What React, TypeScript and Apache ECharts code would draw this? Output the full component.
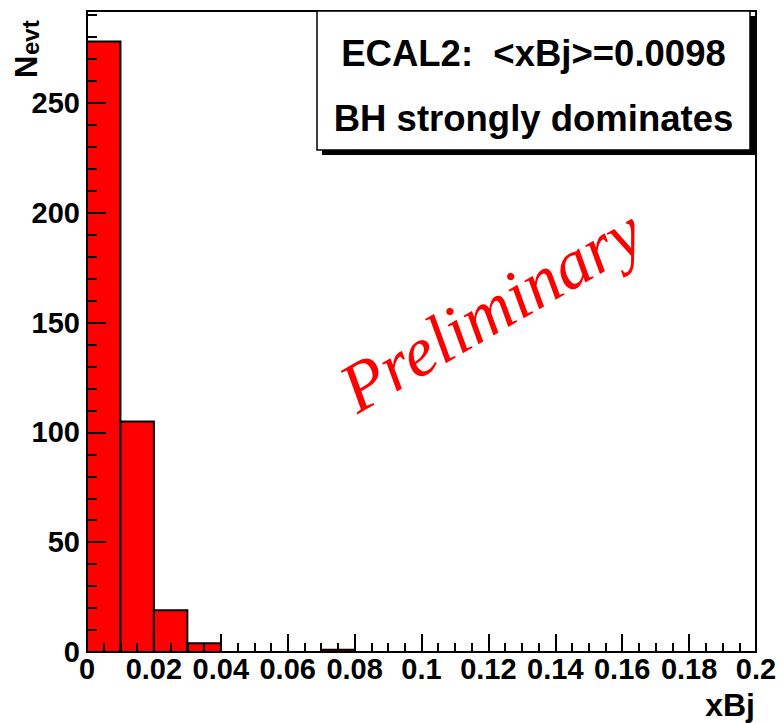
import React, { useEffect, useRef } from "react";
import * as echarts from "echarts";

// Histogram data (bin lower edges, width 0.01)
const binLow = [0, 0.01, 0.02, 0.03, 0.04, 0.05, 0.06, 0.07, 0.08, 0.09, 0.1, 0.11, 0.12, 0.13, 0.14, 0.15, 0.16, 0.17, 0.18, 0.19];
const binCounts = [278, 105, 19, 4, 0, 0, 0, 1, 0, 0, 0, 0, 0, 0, 0, 0, 0, 0, 0, 0];
const binWidth = 0.01;

const xMin = 0;
const xMax = 0.2;
const xInterval = 0.02;
const yMin = 0;
const yMax = 291.9;
const yInterval = 50;

const boxLines = ["ECAL2:  <xBj>=0.0098", "BH strongly dominates"];
const xTitle = "xBj";
const yTitleMain = "N";
const yTitleSub = "evt";
const watermark = "Preliminary";

const SANS = '"Liberation Sans", Arial, Helvetica, sans-serif';
const SERIF = '"Liberation Serif", "Times New Roman", Times, serif';

export default function App() {
  const ref = useRef<HTMLDivElement>(null);
  useEffect(() => {
    if (!ref.current) return;
    const chart = echarts.init(ref.current, null, { renderer: "svg" });
    const data = binLow.map((lo, i) => [lo, lo + binWidth, binCounts[i]]);
    const option: any = {
      animation: false,
      backgroundColor: "#ffffff",
      grid: {
        left: 87,
        right: 27,
        top: 11,
        bottom: 71,
        show: true,
        borderColor: "#000",
        borderWidth: 2,
        backgroundColor: "transparent",
      },
      xAxis: {
        type: "value",
        z: 10,
        min: xMin,
        max: xMax,
        interval: xInterval,
        axisLine: { show: true, lineStyle: { color: "#000", width: 2 } },
        axisTick: { show: true, inside: true, length: 18, lineStyle: { color: "#000", width: 2 } },
        minorTick: { show: true, splitNumber: 4, length: 9, lineStyle: { color: "#000", width: 2 } },
        splitLine: { show: false },
        axisLabel: {
          show: true,
          margin: 2,
          color: "#000",
          fontSize: 29,
          fontWeight: "bold",
          fontFamily: SANS,
          hideOverlap: false,
        },
      },
      yAxis: {
        type: "value",
        z: 10,
        min: yMin,
        max: yMax,
        interval: yInterval,
        axisLine: { show: true, lineStyle: { color: "#000", width: 2 } },
        axisTick: { show: true, inside: true, length: 19, lineStyle: { color: "#000", width: 2 } },
        minorTick: { show: true, splitNumber: 5, length: 10, lineStyle: { color: "#000", width: 2 } },
        splitLine: { show: false },
        axisLabel: {
          show: true,
          margin: 7,
          color: "#000",
          fontSize: 29,
          fontWeight: "bold",
          fontFamily: SANS,
          showMaxLabel: false,
          formatter: (v: number) => (Math.abs(v % yInterval) < 1e-6 ? String(v) : ""),
        },
      },
      series: [
        {
          type: "custom",
          z: 1,
          clip: true,
          encode: { x: [0, 1], y: 2 },
          data,
          renderItem: (params: any, api: any) => {
            const lo = api.value(0);
            const hi = api.value(1);
            const v = api.value(2);
            const p0 = api.coord([lo, v]);
            const p1 = api.coord([hi, 0]);
            return {
              type: "rect",
              shape: { x: p0[0], y: p0[1], width: p1[0] - p0[0], height: p1[1] - p0[1] },
              style: { fill: "#ff0000", stroke: "#000", lineWidth: 2 },
            };
          },
        },
      ],
      graphic: [
        // Info box shadow + box
        { type: "rect", z: 100, shape: { x: 322, y: 16, width: 433, height: 139 }, style: { fill: "#000" } },
        { type: "rect", z: 101, shape: { x: 317, y: 11, width: 433, height: 139 }, style: { fill: "#fff", stroke: "#000", lineWidth: 1.5 } },
        {
          type: "text", z: 102, x: 533.5, y: 53,
          style: { text: boxLines[0], fill: "#000", font: `bold 36.5px ${SANS}`, align: "center", verticalAlign: "middle" },
        },
        {
          type: "text", z: 102, x: 533.5, y: 118,
          style: { text: boxLines[1], fill: "#000", font: `bold 36.5px ${SANS}`, align: "center", verticalAlign: "middle" },
        },
        // Axis titles
        {
          type: "text", z: 102, x: 755, y: 705,
          style: { text: xTitle, fill: "#000", font: `bold 32px ${SANS}`, align: "right", verticalAlign: "middle" },
        },
        {
          type: "text", z: 102, x: 26.5, y: 78, rotation: Math.PI / 2,
          style: { text: yTitleMain, fill: "#000", font: `bold 31px ${SANS}`, align: "left", verticalAlign: "middle" },
        },
        {
          type: "text", z: 102, x: 30, y: 55, rotation: Math.PI / 2,
          style: { text: yTitleSub, fill: "#000", font: `bold 24px ${SANS}`, align: "left", verticalAlign: "middle" },
        },
        // Watermark
        {
          type: "text", z: 102, x: 491, y: 310, rotation: (30 * Math.PI) / 180,
          style: { text: watermark, fill: "#ff0000", font: `italic 70px ${SERIF}`, align: "center", verticalAlign: "middle" },
        },
      ],
    };
    chart.setOption(option);
    return () => chart.dispose();
  }, []);
  return (
    <div
      ref={ref}
      style={{ position: "fixed", left: 0, top: 0, width: 783, height: 723, background: "#fff" }}
    />
  );
}
